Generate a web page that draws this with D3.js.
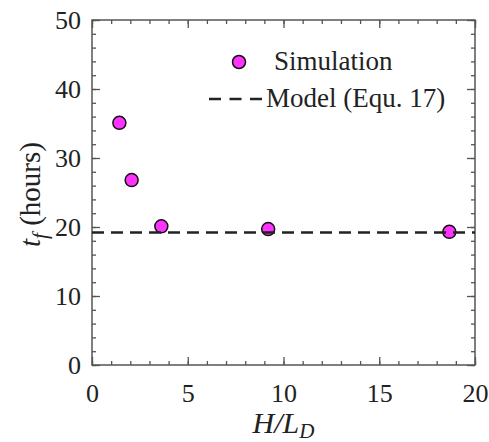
<html><head>
<script src="https://cdn.jsdelivr.net/npm/d3@7"></script>
</head><body style="margin:0">
<script>
const simX = [1.43, 2.07, 3.62, 9.2, 18.66];
const simY = [35.1, 26.8, 20.1, 19.7, 19.3];
const modelY = 19.2;
const xTicks = [0, 5, 10, 15, 20];
const yTicks = [0, 10, 20, 30, 40, 50];
const legendLabels = ["Simulation", "Model (Equ. 17)"];

const FONT = "Liberation Serif";
const W = 489, H = 442;
const m = {l: 92, r: 14, t: 20, b: 77};
const svg = d3.select("body").append("svg").attr("width", W).attr("height", H).style("display", "block");
const x = d3.scaleLinear().domain([0, 20]).range([m.l, W - m.r]);
const y = d3.scaleLinear().domain([0, 50]).range([H - m.b, m.t]);
const axisColor = "#555";

function styleAxis(g) {
  g.attr("font-family", FONT).attr("font-size", 26);
  g.select(".domain").remove();
  g.selectAll("line").attr("stroke", axisColor).attr("stroke-width", 1.3);
  g.selectAll("text").attr("font-family", FONT).style("font-family", `'${FONT}'`).attr("font-size", 26).attr("fill", "#222");
}
const xMinor = d3.range(0, 21, 1), yMinor = d3.range(0, 51, 2);
// bottom
svg.append("g").attr("transform", `translate(0,${y(0)})`)
  .call(d3.axisBottom(x).tickValues(xMinor).tickSize(-4).tickFormat("")).call(styleAxis);
svg.append("g").attr("transform", `translate(0,${y(0)})`)
  .call(d3.axisBottom(x).tickValues(xTicks).tickSize(-8).tickPadding(19).tickFormat(d3.format("d"))).call(styleAxis);
// top
svg.append("g").attr("transform", `translate(0,${y(50)})`)
  .call(d3.axisTop(x).tickValues(xMinor).tickSize(-4).tickFormat("")).call(styleAxis);
svg.append("g").attr("transform", `translate(0,${y(50)})`)
  .call(d3.axisTop(x).tickValues(xTicks).tickSize(-8).tickFormat("")).call(styleAxis);
// left
svg.append("g").attr("transform", `translate(${x(0)},0)`)
  .call(d3.axisLeft(y).tickValues(yMinor).tickSize(-4).tickFormat("")).call(styleAxis);
svg.append("g").attr("transform", `translate(${x(0)},0)`)
  .call(d3.axisLeft(y).tickValues(yTicks).tickSize(-8).tickPadding(11).tickFormat(d3.format("d"))).call(styleAxis);
// right
svg.append("g").attr("transform", `translate(${x(20)},0)`)
  .call(d3.axisRight(y).tickValues(yMinor).tickSize(-4).tickFormat("")).call(styleAxis);
svg.append("g").attr("transform", `translate(${x(20)},0)`)
  .call(d3.axisRight(y).tickValues(yTicks).tickSize(-8).tickFormat("")).call(styleAxis);

svg.append("rect").attr("x", x(0)).attr("y", y(50)).attr("width", x(20) - x(0)).attr("height", y(0) - y(50))
  .attr("fill", "none").attr("stroke", axisColor).attr("stroke-width", 1.5);

// points
const pts = simX.map((v, i) => ({x: v, y: simY[i]}));
svg.append("g").selectAll("circle").data(pts).join("circle")
  .attr("cx", d => x(d.x)).attr("cy", d => y(d.y)).attr("r", 6.5)
  .attr("fill", "#ff33ff").attr("stroke", "#111").attr("stroke-width", 1.5);

// model line
svg.append("line").attr("x1", x(0)).attr("x2", x(20)).attr("y1", y(modelY)).attr("y2", y(modelY))
  .attr("stroke", "#222").attr("stroke-width", 2.5).attr("stroke-dasharray", "12,7");

// legend
svg.append("circle").attr("cx", 239).attr("cy", 62).attr("r", 6.5)
  .attr("fill", "#ff33ff").attr("stroke", "#111").attr("stroke-width", 1.5);
svg.append("text").attr("x", 274).attr("y", 70).attr("fill", "#222")
  .style("font-family", `'${FONT}'`).style("font-size", "27px").text(legendLabels[0]);
svg.append("line").attr("x1", 209).attr("x2", 262).attr("y1", 99).attr("y2", 99)
  .attr("stroke", "#222").attr("stroke-width", 2.5).attr("stroke-dasharray", "12,8.5");
svg.append("text").attr("x", 266).attr("y", 107).attr("fill", "#222")
  .style("font-family", `'${FONT}'`).style("font-size", "27px").text(legendLabels[1]);

// axis titles
const xt = svg.append("text").attr("x", x(10)).attr("y", 433).attr("text-anchor", "middle").attr("fill", "#222")
  .style("font-family", `'${FONT}'`).style("font-size", "30px").style("font-style", "italic");
xt.append("tspan").text("H/L");
xt.append("tspan").attr("dy", 5).style("font-size", "21px").text("D");

const yt = svg.append("text").attr("transform", `translate(40,${(y(0)+y(50))/2 + 2}) rotate(-90)`)
  .attr("text-anchor", "middle").attr("fill", "#222")
  .style("font-family", `'${FONT}'`).style("font-size", "29px");
yt.append("tspan").style("font-style", "italic").text("t");
yt.append("tspan").style("font-style", "italic").style("font-size", "21px").attr("dy", 7).text("f");
yt.append("tspan").attr("dy", -7).text(" (hours)");
</script>
</body></html>
